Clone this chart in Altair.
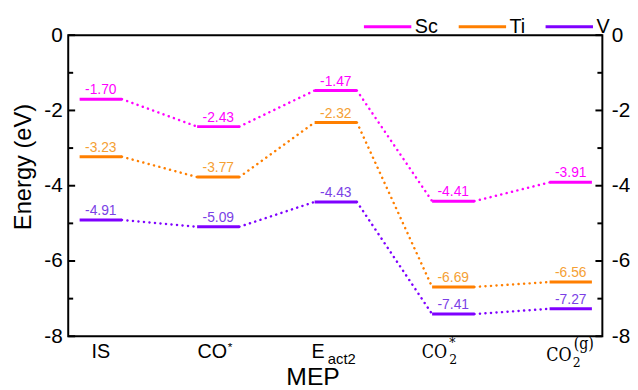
import altair as alt
import pandas as pd

# ---------------- data ----------------
states = ["IS", "CO*", "E_act2", "CO2*", "CO2(g)"]
series = ["Sc", "Ti", "V"]
sc_vals = [-1.70, -2.43, -1.47, -4.41, -3.91]
ti_vals = [-3.23, -3.77, -2.32, -6.69, -6.56]
v_vals = [-4.91, -5.09, -4.43, -7.41, -7.27]
line_colors = ["#FF00FF", "#FF7F00", "#7F00FF"]
label_colors = ["#FF00FF", "#F5A033", "#7B3FE6"]
major_ticks = [0, -2, -4, -6, -8]
minor_ticks = [-1, -3, -5, -7]

# x-label pieces (text only)
lab_is = "IS"
lab_co = "CO"
lab_star = "*"
lab_e = "E"
lab_act2 = "act2"
lab_two = "2"
lab_g = "(g)"
x_title = "MEP"
y_title = "Energy (eV)"

# ---------------- tables ----------------
rows = []
conn = []
for s, vals in zip(series, [sc_vals, ti_vals, v_vals]):
    for i, val in enumerate(vals):
        rows.append({"series": s, "idx": i, "state": states[i],
                     "energy": val, "label": f"{val:.2f}"})
    for i in range(len(vals) - 1):
        conn.append({"series": s, "idx_a": i, "idx_b": i + 1,
                     "e_a": vals[i], "e_b": vals[i + 1]})
levels = pd.DataFrame(rows)
links = pd.DataFrame(conn)

W, H = 541, 305
HALF = 0.18
SANS = "Liberation Sans, Arial, sans-serif"
SERIF = "DejaVu Serif Condensed, DejaVu Serif, serif"

xscale = alt.Scale(domain=[-0.277, 4.269], nice=False, zero=False)
yscale = alt.Scale(domain=[-8, 0], nice=False, zero=False)
minus_expr = "datum.value < 0 ? '-' + format(-datum.value, 'd') : format(datum.value, 'd')"


def X(field):
    return alt.X(field, type="quantitative", scale=xscale, axis=None)


def Y(field, axis=None):
    return alt.Y(field, type="quantitative", scale=yscale, axis=axis)


left_axis = alt.Axis(orient="left", values=major_ticks, labelExpr=minus_expr,
                     ticks=False, domain=False, grid=False, labelFontSize=21,
                     labelFont=SANS, labelColor="black", labelPadding=6,
                     title=y_title, titleFontSize=24, titleFont=SANS,
                     titleFontWeight="normal", titleColor="black", titlePadding=9,
                     titleY=133)
right_axis = alt.Axis(orient="right", values=major_ticks, labelExpr=minus_expr,
                      ticks=False, domain=False, grid=False, labelFontSize=21,
                      labelFont=SANS, labelColor="black", labelPadding=9,
                      title=None)

legend = alt.Legend(orient="none", legendX=298, legendY=-34, direction="horizontal",
                    title=None, symbolType="stroke", symbolSize=2304,
                    symbolStrokeWidth=3, labelFontSize=20, labelFont=SANS,
                    labelColor="black", labelOffset=2, columnPadding=14, padding=0,
                    gridAlign="none")

segments = alt.Chart(levels).transform_calculate(
    x0=f"datum.idx - {HALF}", x1=f"datum.idx + {HALF}"
).mark_rule(strokeWidth=3).encode(
    x=X("x0"), x2="x1:Q", y=Y("energy"),
    color=alt.Color("series:N", scale=alt.Scale(domain=series, range=line_colors),
                    legend=legend),
)

connectors = alt.Chart(links).transform_calculate(
    xa=f"datum.idx_a + {HALF}", xb=f"datum.idx_b - {HALF}"
).mark_rule(strokeWidth=2.5, strokeDash=[0.1, 5.5], strokeCap="round").encode(
    x=X("xa"), x2="xb:Q", y=Y("e_a"), y2="e_b:Q",
    color=alt.Color("series:N", scale=alt.Scale(domain=series, range=line_colors),
                    legend=None),
)

values = alt.Chart(levels).mark_text(
    fontSize=14, font=SANS, align="center", baseline="alphabetic", dy=-5
).encode(
    x=X("idx"), y=Y("energy"), text="label:N",
    color=alt.Color("series:N", scale=alt.Scale(domain=series, range=label_colors),
                    legend=None),
)

tick_major = pd.DataFrame({"t": major_ticks})
tick_minor = pd.DataFrame({"t": minor_ticks})
ticks = [
    alt.Chart(tick_minor).mark_rule(strokeWidth=2, color="black").encode(
        y=Y("t"), x=alt.value(0), x2=alt.value(5)),
    alt.Chart(tick_minor).mark_rule(strokeWidth=2, color="black").encode(
        y=Y("t"), x=alt.value(W - 5), x2=alt.value(W)),
]


def piece(text, idx, dx, ypx, size, font, align="center"):
    df = pd.DataFrame({"idx": [idx], "t": [text]})
    return alt.Chart(df).mark_text(
        fontSize=size, font=font, align=align, baseline="alphabetic",
        dx=dx, color="black"
    ).encode(x=X("idx"), y=alt.value(ypx), text="t:N")


pieces = [
    piece(lab_is, 0, 0, 327, 20, SANS),
    piece(lab_co, 1, -6, 327, 20, SANS),
    piece(lab_star, 1, 12, 320, 12, SANS),
    piece(lab_e, 2, -18, 327, 20, SANS),
    piece(lab_act2, 2, -8, 333, 15, SANS, "left"),
    piece(lab_co, 3, -19, 327, 18, SERIF),
    piece(lab_two, 3, -4, 333, 14, SERIF, "left"),
    piece(lab_star, 3, -4, 316, 14, SERIF, "left"),
    piece(lab_co, 4, -12, 330, 18, SERIF),
    piece(lab_two, 4, 2, 336, 14, SERIF, "left"),
    piece(lab_g, 4, 3, 318, 16, SERIF, "left"),
]

title_df = pd.DataFrame({"t": [x_title]})
xtitle = alt.Chart(title_df).mark_text(
    fontSize=25, font=SANS, align="center", baseline="alphabetic", color="black"
).encode(x=alt.value(248), y=alt.value(354), text="t:N")

main = alt.layer(connectors, segments, values, *ticks, *pieces, xtitle).resolve_scale(
    color="independent")

left = alt.Chart(tick_major).mark_rule(strokeWidth=2, color="black").encode(
    y=Y("t", left_axis), x=alt.value(0), x2=alt.value(7))

right = alt.Chart(tick_major).mark_rule(strokeWidth=2, color="black").encode(
    y=Y("t", right_axis), x=alt.value(W - 7), x2=alt.value(W))

chart = alt.layer(main, left, right).resolve_scale(y="independent").properties(
    width=W, height=H,
    autosize=alt.AutoSizeParams(type="none"),
    padding={"left": 61, "top": 25, "right": 28, "bottom": 60},
).configure_view(stroke="black", strokeWidth=2).configure_axis(labelFlush=False)

chart.save("out.html", embed_options={"renderer": "svg", "actions": False})
